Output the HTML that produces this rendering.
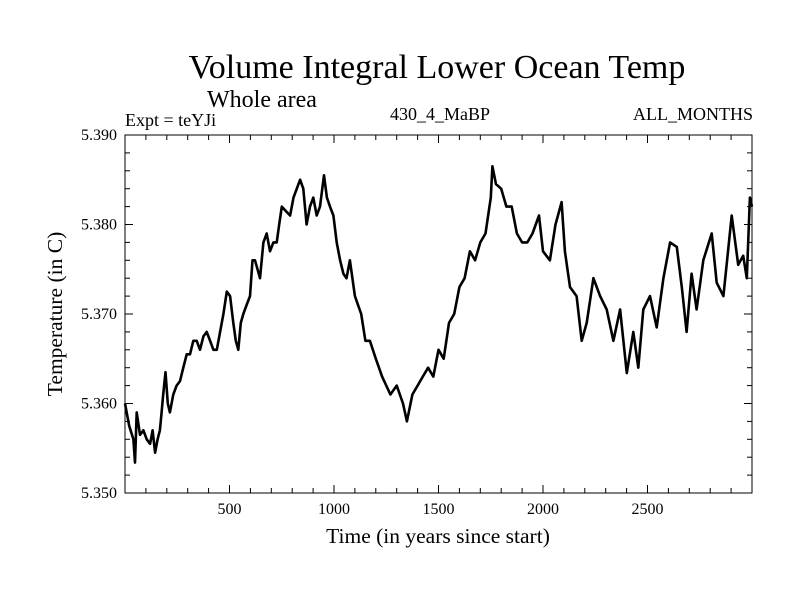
<!DOCTYPE html>
<html><head><meta charset="utf-8"><style>
body{margin:0;background:#fff}
svg text{font-family:"Liberation Serif",serif;fill:#000}
</style></head><body>
<svg id="c" width="800" height="600" xmlns="http://www.w3.org/2000/svg">
<text x="437" y="78" font-size="34" text-anchor="middle">Volume Integral Lower Ocean Temp</text>
<text x="207" y="107" font-size="24">Whole area</text>
<text x="125" y="126" font-size="18">Expt = teYJi</text>
<text x="440" y="120" font-size="18" text-anchor="middle">430_4_MaBP</text>
<text x="753" y="120" font-size="18" text-anchor="end">ALL_MONTHS</text>
<text transform="translate(62,314) rotate(-90)" font-size="21.5" text-anchor="middle">Temperature (in C)</text>
<text x="438" y="543" font-size="21.5" text-anchor="middle">Time (in years since start)</text>
<g id="ax"></g>
<path id="ln" fill="none" stroke="#000" stroke-width="2.6" stroke-linejoin="round"></path>
<rect x="125" y="135" width="627" height="358" fill="none" stroke="#000" stroke-width="1"></rect>
</svg>
<script>
const years=[0,20,40,48,56,72,88,104,120,132,144,156,167,175,183,194,205,215,231,247,263,279,295,311,327,343,359,375,391,407,423,439,455,471,487,503,518,530,542,554,566,582,598,610,622,634,646,662,678,694,710,726,738,750,770,790,806,822,838,853,869,885,901,917,933,952,966,981,997,1013,1029,1045,1060,1076,1100,1130,1150,1172,1200,1230,1270,1300,1330,1349,1375,1400,1425,1450,1475,1500,1525,1550,1575,1600,1625,1650,1675,1700,1725,1750,1758,1775,1800,1825,1850,1875,1900,1925,1950,1981,2000,2033,2060,2089,2105,2129,2161,2185,2209,2241,2273,2305,2337,2369,2401,2432,2456,2480,2512,2544,2576,2608,2640,2664,2687,2711,2735,2767,2807,2831,2863,2903,2934,2958,2975,2990,3000];
const temps=[5.3600,5.3575,5.3560,5.3534,5.3590,5.3565,5.3570,5.3560,5.3555,5.3570,5.3545,5.3560,5.3570,5.3590,5.3610,5.3635,5.3600,5.3590,5.3610,5.3620,5.3625,5.3640,5.3655,5.3655,5.3670,5.3670,5.3660,5.3675,5.3680,5.3670,5.3660,5.3660,5.3680,5.3700,5.3725,5.3720,5.3690,5.3670,5.3660,5.3690,5.3700,5.3710,5.3720,5.3760,5.3760,5.3750,5.3740,5.3780,5.3790,5.3770,5.3780,5.3780,5.3800,5.3820,5.3815,5.3810,5.3830,5.3840,5.3850,5.3840,5.3800,5.3820,5.3830,5.3810,5.3820,5.3855,5.3830,5.3820,5.3810,5.3780,5.3760,5.3745,5.3740,5.3760,5.3720,5.3700,5.3670,5.3670,5.3650,5.3630,5.3610,5.3620,5.3600,5.3580,5.3610,5.3620,5.3630,5.3640,5.3630,5.3660,5.3650,5.3690,5.3700,5.3730,5.3740,5.3770,5.3760,5.3780,5.3790,5.3830,5.3865,5.3845,5.3840,5.3820,5.3820,5.3790,5.3780,5.3780,5.3790,5.3810,5.3770,5.3760,5.3800,5.3825,5.3770,5.3730,5.3720,5.3670,5.3690,5.3740,5.3720,5.3705,5.3670,5.3705,5.3634,5.3680,5.3640,5.3705,5.3720,5.3685,5.3740,5.3780,5.3775,5.3730,5.3680,5.3745,5.3705,5.3760,5.3790,5.3735,5.3720,5.3810,5.3755,5.3765,5.3740,5.3830,5.3820];
const xTicks=[500,1000,1500,2000,2500];
const yTicks=[5.350,5.360,5.370,5.380,5.390];
const X0=125,X1=752,Y0=493,Y1=135;
const xs=v=>X0+(v-0)/(3000-0)*(X1-X0);
const ys=v=>Y0-(v-5.350)/(5.390-5.350)*(Y0-Y1);
const ns="http://www.w3.org/2000/svg";
const ax=document.getElementById('ax');
function ln(x1,y1,x2,y2,name){const l=document.createElementNS(ns,'line');
l.setAttribute('x1',x1);l.setAttribute('y1',y1);l.setAttribute('x2',x2);l.setAttribute('y2',y2);
l.setAttribute('stroke','#000');l.setAttribute('stroke-width','1');


ax.appendChild(l);}
function tx(x,y,s,anchor,name){const t=document.createElementNS(ns,'text');
t.setAttribute('x',x);t.setAttribute('y',y);t.setAttribute('font-size','16');t.setAttribute('text-anchor',anchor);t.textContent=s;


ax.appendChild(t);}
for(let v=100;v<3000;v+=100){const x=xs(v);const major=v%500===0;const L=major?8:5;
ln(x,Y0,x,Y0-L,'x-tick');ln(x,Y1,x,Y1+L,'x-tick-top');}
for(let i=0;i<=20;i++){const v=5.350+i*0.002;const y=ys(v);const major=i%5===0;const L=major?8:5;
ln(X0,y,X0+L,y,'y-tick');ln(X1,y,X1-L,y,'y-tick-right');}
xTicks.forEach(v=>tx(xs(v),Y0+21,String(v),'middle','x-tick-label'));
yTicks.forEach(v=>tx(X0-8,ys(v)+5,v.toFixed(3),'end','y-tick-label'));
let d='';years.forEach((yr,i)=>{d+=(i?'L':'M')+xs(yr).toFixed(1)+','+ys(temps[i]).toFixed(1);});
document.getElementById('ln').setAttribute('d',d);
</script>
</body></html>
